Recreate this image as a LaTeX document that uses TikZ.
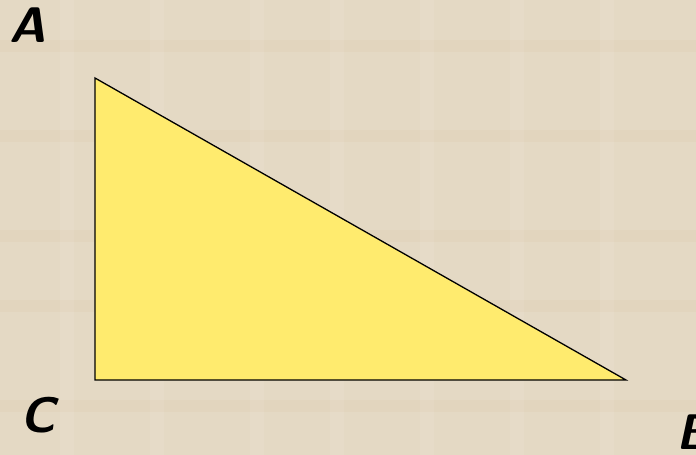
\documentclass[tikz,border=0pt]{standalone}
\usepackage{tikz}
\definecolor{paper}{HTML}{E4D9C4}
\definecolor{tri}{HTML}{FFEB6E}

\begin{document}
\begin{tikzpicture}[x=1pt, y=-1pt,
	every node/.style={font=\fontsize{50}{54}\selectfont\sffamily\bfseries\itshape, inner sep=0pt},
	vlabel/.style={text=black}]
	\fill[paper] (0,0) rectangle (696,455);
	\useasboundingbox (0,0) rectangle (696,455);
	% faint texture
	\foreach \x in {60,150,250,330,420,510,600} {\fill[white, opacity=0.08] (\x,0) rectangle ++(14,455);}
	\foreach \y in {40,130,230,300,400} {\fill[brown, opacity=0.04] (0,\y) rectangle ++(696,12);}
	\coordinate (a) at (95,78);
	\coordinate (c) at (95,380);
	\coordinate (b) at (626,380);
	\filldraw[fill=tri, draw=black, line width=1.3pt] (a) -- (b) -- (c) -- cycle;
	\node[vlabel] (la) at (28,25) {A};
	\node[vlabel] (lc) at (38,415) {C};
	\node[vlabel, anchor=west] (lb) at (676,432) {B};
\end{tikzpicture}
\end{document}
